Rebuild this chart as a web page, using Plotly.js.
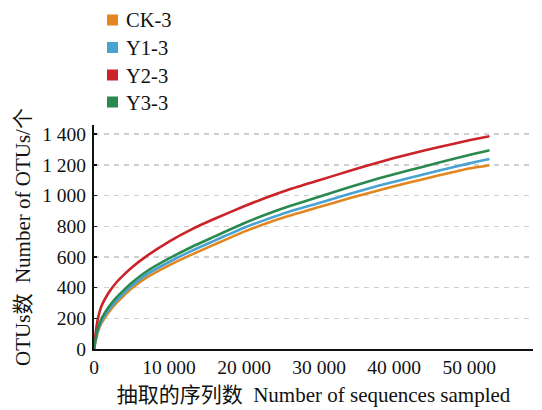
<!DOCTYPE html>
<html>
<head>
<meta charset="utf-8">
<script src="https://cdn.plot.ly/plotly-3.0.1.min.js"></script>
<style>html,body{margin:0;padding:0;background:#fff;}#chart{width:542px;height:410px;}</style>
</head>
<body>
<div id="chart"></div>
<script>
const seqSampled = [0, 250, 500, 1000, 2000, 3000, 4000, 5000, 7000, 10000, 13000, 16000, 20000, 23000, 26000, 30000, 34000, 38000, 42000, 46000, 50000, 52700];
const seriesNames = ["CK-3", "Y1-3", "Y2-3", "Y3-3"];
const ck3 = [0, 60, 108, 168, 242, 300, 350, 395, 465, 545, 615, 680, 765, 820, 868, 925, 982, 1035, 1085, 1132, 1176, 1198];
const y13 = [0, 65, 116, 180, 257, 316, 365, 410, 485, 567, 640, 705, 790, 845, 895, 952, 1010, 1065, 1115, 1164, 1210, 1238];
const y23 = [0, 115, 192, 280, 370, 435, 485, 530, 605, 700, 780, 847, 930, 988, 1040, 1100, 1160, 1218, 1270, 1317, 1360, 1387];
const y33 = [0, 75, 130, 198, 277, 336, 385, 430, 505, 590, 665, 732, 820, 878, 930, 992, 1055, 1113, 1165, 1215, 1265, 1296];
const xTickVals = [0, 10000, 20000, 30000, 40000, 50000];
const xTickText = ["0", "10 000", "20 000", "30 000", "40 000", "50 000"];
const yTickVals = [0, 200, 400, 600, 800, 1000, 1200, 1400];
const yTickText = ["0", "200", "400", "600", "800", "1 000", "1 200", "1 400"];

const colors = ["#E3861F", "#47A3D1", "#CC2229", "#2A8A4E"];
const ys = [ck3, y13, y23, y33];
const FONT = "'Liberation Serif', 'Times New Roman', 'Noto Sans CJK SC', serif";

const traces = ys.map((y, i) => ({
  x: seqSampled, y: y, type: 'scatter', mode: 'lines', name: seriesNames[i],
  line: {color: colors[i], width: 2.6, shape: 'spline', smoothing: 0.6}, showlegend: false, hoverinfo: 'skip'
}));

// Legend built from paper-referenced shapes and annotations
const PL = 94, PW = 439, PB = 349, PH = 224;
const px2x = p => (p - PL) / PW;
const py2y = p => (PB - p) / PH;
const legendRowsY = [20, 47.5, 75, 102];
const shapes = [], annotations = [];
seriesNames.forEach((n, i) => {
  const cy = legendRowsY[i];
  shapes.push({type: 'rect', xref: 'paper', yref: 'paper', x0: px2x(107), x1: px2x(118), y0: py2y(cy + 5.5), y1: py2y(cy - 5.5), fillcolor: colors[i], line: {width: 0}});
  annotations.push({xref: 'paper', yref: 'paper', x: px2x(124), y: py2y(cy + 0.5), xanchor: 'left', yanchor: 'middle', text: n, showarrow: false, font: {family: FONT, size: 20.5, color: '#111'}});
});

const layout = {
  width: 542, height: 410,
  margin: {l: 94, r: 9, t: 125, b: 61},
  paper_bgcolor: '#fff', plot_bgcolor: '#fff',
  font: {family: FONT, size: 19, color: '#111'},
  showlegend: false,
  shapes: shapes, annotations: annotations,
  xaxis: {
    range: [0, 58500], tickvals: xTickVals, ticktext: xTickText,
    showline: true, linecolor: '#111', linewidth: 2, showgrid: false, zeroline: false,
    ticks: '', tickfont: {family: FONT, size: 19.5},
    title: {text: '抽取的序列数  Number of sequences sampled', font: {family: FONT, size: 21}, standoff: 10}
  },
  yaxis: {
    range: [0, 1460], tickvals: yTickVals, ticktext: yTickText,
    showline: true, linecolor: '#111', linewidth: 2, zeroline: false,
    showgrid: true, gridcolor: '#cfcfcf', gridwidth: 1.5, griddash: '5px,5px',
    ticks: 'inside', ticklen: 3, tickwidth: 1.5, tickcolor: '#111',
    tickfont: {family: FONT, size: 19.5}, ticklabelstandoff: 2,
    title: {text: 'OTUs数  Number of OTUs/个', font: {family: FONT, size: 21}, standoff: 6}
  }
};
Plotly.newPlot('chart', traces, layout, {displayModeBar: false, staticPlot: true});
</script>
</body>
</html>
